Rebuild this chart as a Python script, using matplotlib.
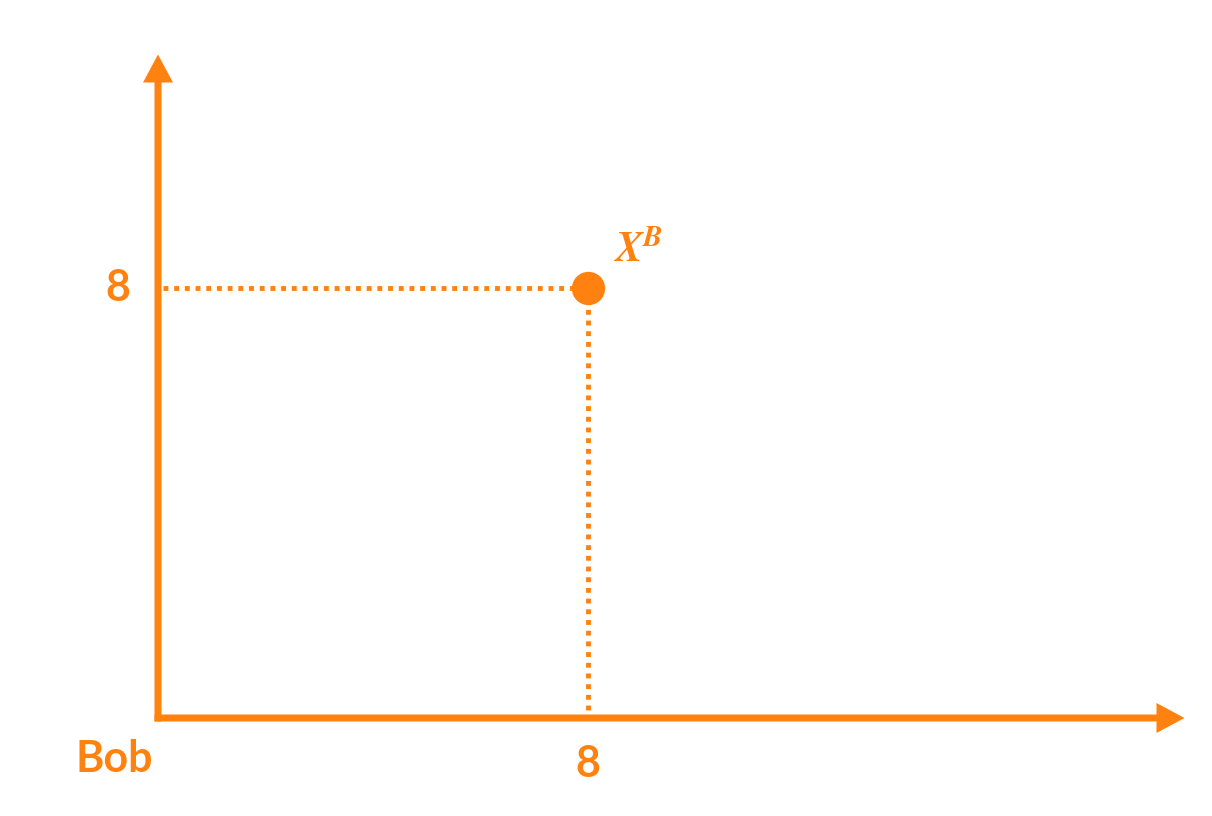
import matplotlib
matplotlib.use('Agg')
import matplotlib.pyplot as plt

# data
point_x = [8]
point_y = [8]
point_label = r'$\boldsymbol{X}^{\boldsymbol{B}}$'
x_ticks = [8]
y_ticks = [8]
corner_label = 'Bob'

orange = '#ff8210'
plt.rcParams['font.family'] = ['Lato', 'DejaVu Sans']
plt.rcParams['mathtext.fontset'] = 'stix'

W, H = 1212, 816
ox, oy = 158, 718          # origin in pixels
scale = 53.75              # pixels per unit

fig = plt.figure(figsize=(W / 100, H / 100), dpi=100)
ax = fig.add_axes([0, 0, 1, 1])
ax.set_xlim(-ox / scale, (W - ox) / scale)
ax.set_ylim(-(H - oy) / scale, oy / scale)
ax.axis('off')

# axes with arrow heads
lw = 7 / scale
ax.arrow(-lw / 2, 0, (1188 - ox) / scale, 0, width=lw, head_width=30 / scale,
         head_length=28 / scale, length_includes_head=True, color=orange, lw=0)
ax.arrow(0, -lw / 2, 0, (oy - 51) / scale, width=lw, head_width=30 / scale,
         head_length=28 / scale, length_includes_head=True, color=orange, lw=0)

# dotted guides + point
for px, py in zip(point_x, point_y):
    ax.plot([0.1, px], [py, py], color=orange, lw=3.5, dashes=(1, 1.2))
    ax.plot([px, px], [py, 0.1], color=orange, lw=3.5, dashes=(1, 1.2))
ax.plot(point_x, point_y, 'o', color=orange, ms=24, mec='none', zorder=5)
ax.text(point_x[0] + 0.47, point_y[0] + 0.48, point_label, color=orange,
        fontsize=30, ha='left', va='baseline')

for t in x_ticks:
    ax.text(t, -0.86, str(t), color=orange, fontsize=31, fontweight='bold',
            ha='center', va='center')
for t in y_ticks:
    ax.text(-0.74, t, str(t), color=orange, fontsize=31, fontweight='bold',
            ha='center', va='center')
ax.text(-1.54, -1.0, corner_label, color=orange, fontsize=31, fontweight='bold',
        ha='left', va='baseline')

fig.savefig('out.png', dpi=100)
